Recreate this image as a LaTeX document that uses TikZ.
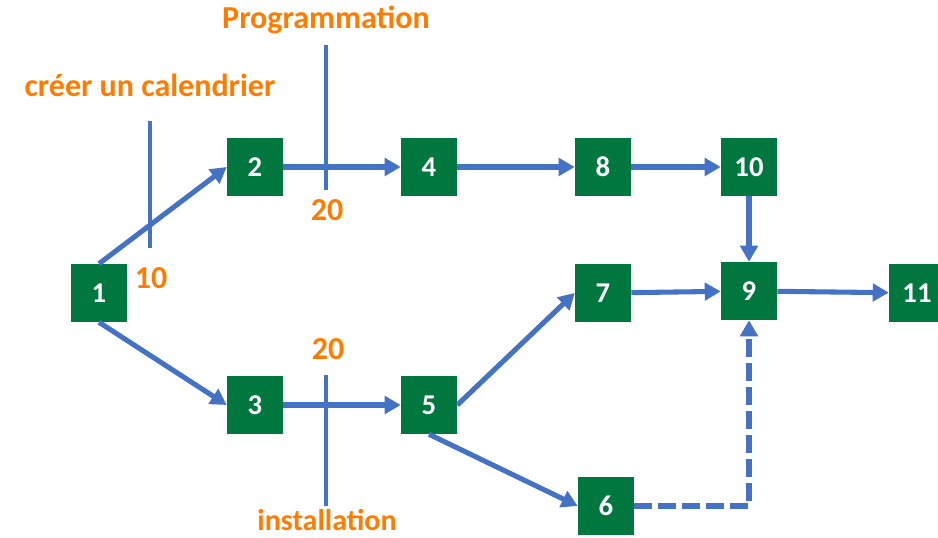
\documentclass[tikz,border=0pt]{standalone}
\usepackage{fontspec}
\setmainfont{Carlito}
\usepackage{tikz}
\usetikzlibrary{arrows.meta}

\definecolor{boxgreen}{RGB}{0,119,62}
\definecolor{arcblue}{RGB}{68,114,196}
\definecolor{laborange}{RGB}{255,124,0}

\tikzset{
    eventbox/.style={fill=boxgreen, text=white, minimum width=42pt, minimum height=43.5pt,
        inner sep=0pt, font=\bfseries\fontsize{21.5}{22}\selectfont},
    activity/.style={arcblue, line width=3.8pt, -{Triangle[length=12pt,width=13pt]}},
    marker/.style={arcblue, line width=3.6pt},
    tasklabel/.style={laborange, anchor=base, inner sep=0pt, font=\bfseries\fontsize{24}{26}\selectfont}
}

\begin{document}
\begin{tikzpicture}[x=0.75pt, y=-0.75pt]
    \useasboundingbox (0,0) rectangle (938,538);
    % events
    \node[eventbox] (n1) at (99,293) {1};
    \node[eventbox] (n2) at (255,167) {2};
    \node[eventbox] (n3) at (255,405) {3};
    \node[eventbox] (n4) at (429,167) {4};
    \node[eventbox] (n5) at (429,405) {5};
    \node[eventbox] (n6) at (606,506) {6};
    \node[eventbox] (n7) at (603,293) {7};
    \node[eventbox] (n8) at (603,167) {8};
    \node[eventbox] (n9) at (749,291) {9};
    \node[eventbox] (n10) at (749,167) {10};
    \node[eventbox] (n11) at (917,293) {11};
    % activities
    \draw[activity] (n1.north) -- (n2.west);
    \draw[activity] (n1.south) -- (n3.west);
    \draw[activity] (n2) -- (n4);
    \draw[activity] (n3) -- (n5);
    \draw[activity] (n4) -- (n8);
    \draw[activity] (n8) -- (n10);
    \draw[activity] (n5.east) -- (n7.west);
    \draw[activity] (n5.south) -- (n6.west);
    \draw[activity] (n7) -- (n9);
    \draw[activity] (n10) -- (n9);
    \draw[activity] (n9) -- (n11);
    \draw[activity, dash pattern=on 13pt off 5pt] (n6.east) -| (n9.south);
    % labels and cuts
    \node[tasklabel] (cal) at (150,97) {créer un calendrier};
    \node[tasklabel] (d10) at (151,288) {10};
    \node[tasklabel] (prog) at (326,29) {Programmation};
    \node[tasklabel] (d20a) at (327,221) {20};
    \node[tasklabel] (d20b) at (328,359) {20};
    \node[tasklabel, font=\bfseries\fontsize{22.5}{24}\selectfont] (inst) at (327,530) {installation};
    \draw[marker] (150,121) -- (150,248);
    \draw[marker] (326,45) -- (326,190);
    \draw[marker] (326,375) -- (326,506);
\end{tikzpicture}
\end{document}
